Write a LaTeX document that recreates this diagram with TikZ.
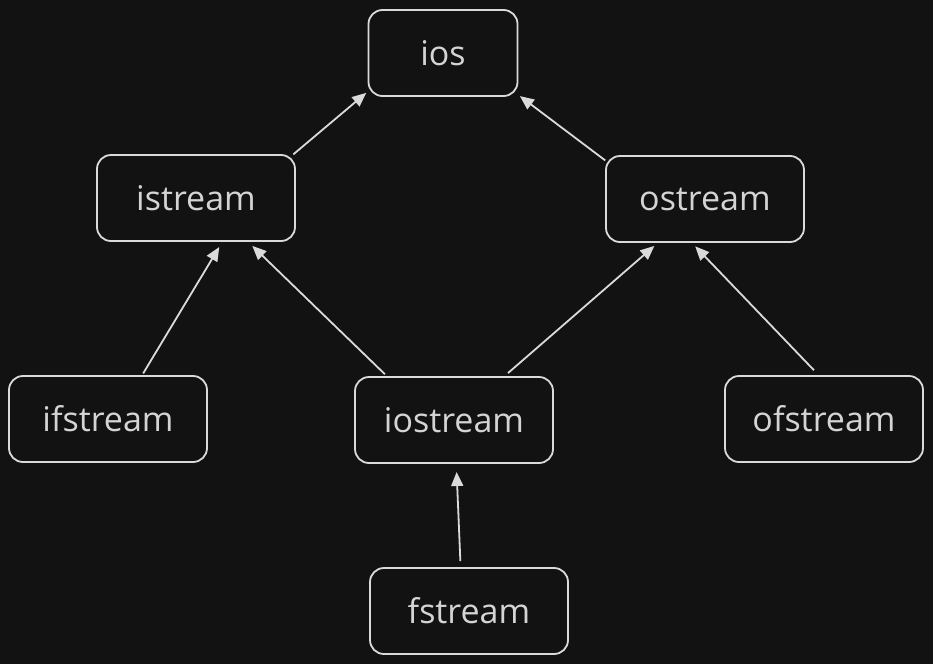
\documentclass[tikz,border=0pt]{standalone}
\usepackage{fontspec}
\setmainfont{Open Sans}
\usetikzlibrary{arrows.meta}
\definecolor{bgc}{HTML}{121212}
\definecolor{strokec}{HTML}{DADADA}
\definecolor{textc}{HTML}{D4D4D4}
\begin{document}
\begin{tikzpicture}[x=1pt,y=-1pt,
  box/.style={draw=strokec, line width=1.8pt, rounded corners=14pt, minimum height=86pt, inner sep=0pt, outer sep=0pt, text=textc, font=\fontsize{34}{40}\selectfont},
  wide/.style={box, minimum width=198pt},
  narrow/.style={box, minimum width=149pt},
  arr/.style={draw=strokec, line width=1.8pt, -{Triangle[length=14pt,width=12pt]}}]
\fill[bgc] (0,0) rectangle (933,664);
\useasboundingbox (0,0) rectangle (933,664);
\node[narrow] (ios) at (443,53) {ios};
\node[wide] (istream) at (196,198) {istream};
\node[wide] (ostream) at (705,199) {ostream};
\node[wide] (ifstream) at (108,419) {ifstream};
\node[wide] (iostream) at (454,420) {iostream};
\node[wide] (ofstream) at (824,419) {ofstream};
\node[wide] (fstream) at (469,611) {fstream};
\draw[arr, shorten <=1pt, shorten >=3pt] (istream.24) -- (ios.207);
\draw[arr, shorten <=1pt, shorten >=3pt] (ostream.159) -- (ios.331);
\draw[arr, shorten <=3pt, shorten >=7pt] (ifstream.52) -- (istream.-58);
\draw[arr, shorten <=4pt, shorten >=7pt] (iostream.147) -- (istream.-40);
\draw[arr, shorten <=6pt, shorten >=6pt] (iostream.41) -- (ostream.223);
\draw[arr, shorten <=8pt, shorten >=6pt] (ofstream.96) -- (ostream.252);
\draw[arr, shorten <=7pt, shorten >=9pt] (fstream.101) -- (iostream.-87);
\end{tikzpicture}
\end{document}
